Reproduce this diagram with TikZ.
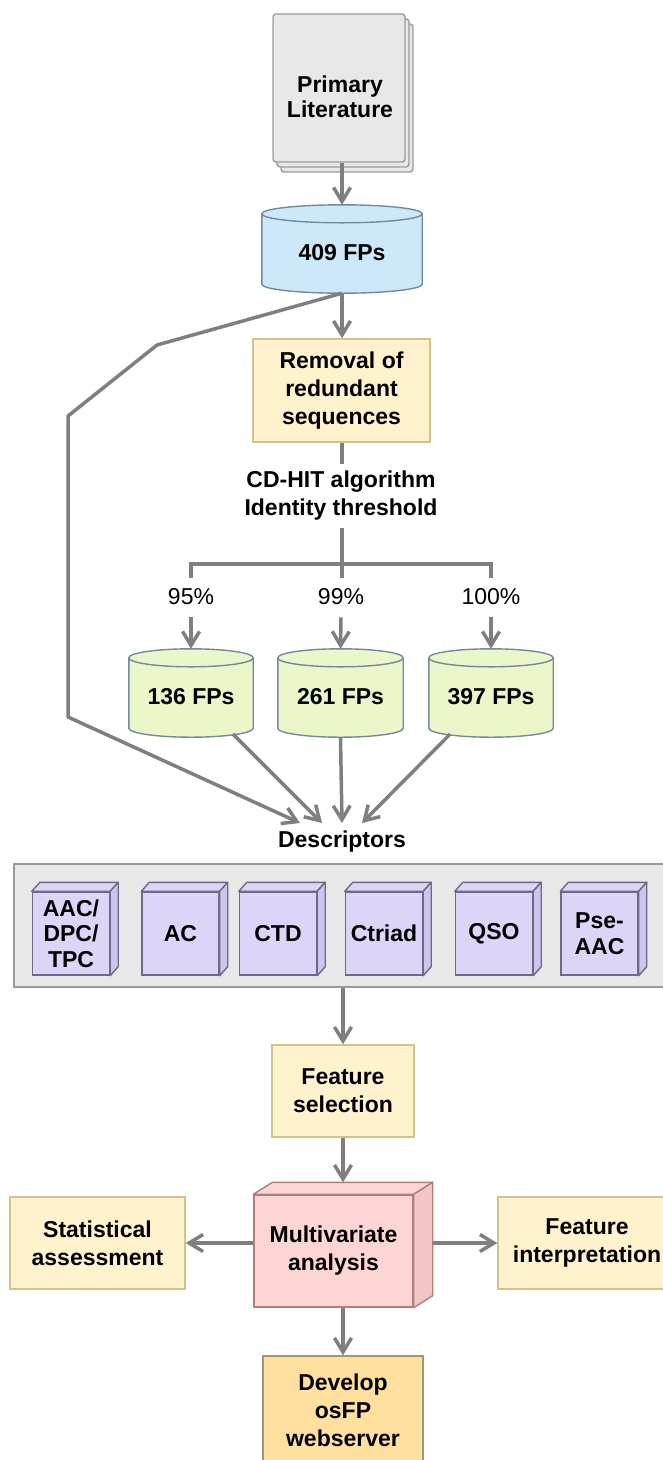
\documentclass[tikz,border=0pt]{standalone}
\usepackage{fontspec}
\setmainfont{Liberation Sans}
\usetikzlibrary{arrows.meta,calc,shadows}
\definecolor{lncol}{HTML}{7F7F7F}
\definecolor{pfill}{HTML}{E8E8E8}
\definecolor{pbord}{HTML}{9A9A9A}
\definecolor{bfill}{HTML}{CDE8FB}
\definecolor{cbord}{HTML}{76899A}
\definecolor{gfill}{HTML}{EBF7CB}
\definecolor{yfill}{HTML}{FFF2CC}
\definecolor{ybord}{HTML}{CFC38E}
\definecolor{ufill}{HTML}{DDD4F7}
\definecolor{uside}{HTML}{CEC4EC}
\definecolor{ubord}{HTML}{6F6888}
\definecolor{rfill}{HTML}{FDD5D4}
\definecolor{rside}{HTML}{F3C6C5}
\definecolor{rbord}{HTML}{B07E7C}
\definecolor{ofill}{HTML}{FFE09E}
\definecolor{obord}{HTML}{9C9A72}
\newcommand\mycyl[3]{%
  \path[fill=#2,draw=#3,line width=1.4pt] let \p1=(#1.north west), \p2=(#1.south east) in
    (\x1,\y1-1pt) -- (\x1,\y2+9pt) arc[start angle=180,end angle=360,x radius={(\x2-\x1)/2},y radius=9pt]
    -- (\x2,\y1-1pt) arc[start angle=0,end angle=180,x radius={(\x2-\x1)/2},y radius=9pt] -- cycle;
  \path[draw=#3,line width=1.4pt] let \p1=(#1.north west), \p2=(#1.south east) in
    (\x1,\y1-1pt) arc[start angle=180,end angle=360,x radius={(\x2-\x1)/2},y radius=9pt];
}
\newcommand\mycube[6]{% name, dx, dy, top fill, border, side fill
  \filldraw[fill=#4,draw=#5,line width=1.4pt,line join=round] (#1.north west) -- ++(#2,#3) -- ($(#1.north east)+(#2,#3)$) -- (#1.north east) -- cycle;
  \filldraw[fill=#6,draw=#5,line width=1.4pt,line join=round] (#1.north east) -- ++(#2,#3) -- ($(#1.south east)+(#2,#3)$) -- (#1.south east) -- cycle;
}
\tikzset{
  txt/.style={font=\fontsize{23}{28}\selectfont\bfseries, align=center, inner sep=0pt},
  ybox/.style={txt, draw=ybord, fill=yfill, line width=1.4pt},
  cube/.style={txt, font=\fontsize{23}{25.5}\selectfont\bfseries, draw=ubord, fill=ufill, line width=1.4pt, minimum width=77pt, minimum height=83pt},
  cylnode/.style={txt, minimum height=80pt},
  pct/.style={txt, font=\fontsize{23}{28}\selectfont\mdseries},
  conn/.style={draw=lncol, line width=3.5pt, line join=round},
  arr/.style={conn, -{Straight Barb[length=14pt,width=17pt]}},
}
\begin{document}
\begin{tikzpicture}[x=1pt,y=1pt]
\useasboundingbox (0,0) rectangle (662,-1460);

% Primary literature
\node[txt, draw=pbord, fill=pfill, line width=1.4pt, rounded corners=3pt,
  minimum width=132pt, minimum height=148pt,
  general shadow={fill=pfill, draw=pbord, line width=1.4pt, shadow xshift=8pt, shadow yshift=-10pt},
  general shadow={fill=pfill, draw=pbord, line width=1.4pt, shadow xshift=4pt, shadow yshift=-5pt}]
  (prim) at (339,-88) {};
\node[txt] (primtxt) at (340,-97) {Primary\\[-3pt]Literature};

% 409 FPs cylinder
\node[cylnode, minimum width=160pt] (c409) at (342,-253) {};
\mycyl{c409}{bfill}{cbord}
\node[txt] (t409) at (c409) {409 FPs};
\coordinate (c409top) at ($(c409.north)+(0,8)$);

% Removal box
\node[ybox, minimum width=177pt, minimum height=103pt] (rem) at (341.5,-390.5) {Removal of\\redundant\\sequences};

% CD-HIT
\node[txt] (cd) at (341,-496) {CD-HIT algorithm\\Identity threshold};
\coordinate (j) at (342,-564);

% percentage labels
\node[pct] (p95) at (191,-597) {95\%};
\node[pct] (p99) at (341,-597) {99\%};
\node[pct] (p100) at (491,-597) {100\%};

% green cylinders
\node[cylnode, minimum width=124pt] (c136) at (191,-697) {};
\node[cylnode, minimum width=125pt] (c261) at (340.5,-697) {};
\node[cylnode, minimum width=124pt] (c397) at (491,-697) {};
\mycyl{c136}{gfill}{cbord}
\mycyl{c261}{gfill}{cbord}
\mycyl{c397}{gfill}{cbord}
\node[txt] at (c136) {136 FPs};
\node[txt] at (c261) {261 FPs};
\node[txt] at (c397) {397 FPs};
\coordinate (c136top) at ($(c136.north)+(0,8)$);
\coordinate (c261top) at ($(c261.north)+(0,8)$);
\coordinate (c397top) at ($(c397.north)+(0,8)$);

% Descriptors
\node[txt] (desc) at (342,-842) {Descriptors};
\coordinate (tA) at (300,-823);
\coordinate (tB) at (322,-823);
\coordinate (tC) at (342,-823);
\coordinate (tD) at (362,-823);
\coordinate (b1) at (157,-345);
\coordinate (b2) at (68,-416);
\coordinate (b3) at (68,-717);

% panel
\node[draw=pbord, fill=pfill, line width=1.4pt, minimum width=656pt, minimum height=123pt, inner sep=0pt] (panel) at (342,-925.5) {};

% cubes
\node[cube] (k1) at (71,-933.5) {AAC/\\DPC/\\TPC};
\node[cube] (k2) at (180.5,-933.5) {AC};
\node[cube] (k3) at (278,-933.5) {CTD};
\node[cube] (k4) at (384,-933.5) {Ctriad};
\node[cube] (k5) at (494,-933.5) {QSO};
\node[cube] (k6) at (599.5,-933.5) {Pse-\\AAC};
\foreach \k in {k1,k2,k3,k4,k5,k6} {\mycube{\k}{8}{9}{ufill}{ubord}{uside}}

% Feature selection
\node[ybox, minimum width=142pt, minimum height=92pt] (fs) at (343,-1091) {Feature\\selection};

% Multivariate analysis
\node[txt, draw=rbord, fill=rfill, line width=1.4pt, minimum width=159pt, minimum height=112pt] (mv) at (333.5,-1251) {Multivariate\\analysis};
\mycube{mv}{19}{12}{rfill}{rbord}{rside}
\coordinate (mvtop) at ($(mv.north)+(9.5,12)$);
\coordinate (mvright) at ($(mv.east)+(19,8)$);

% side boxes
\node[ybox, minimum width=175pt, minimum height=92pt] (stat) at (97.5,-1243) {Statistical\\assessment};
\node[ybox, minimum width=178pt, minimum height=92pt] (fi) at (587,-1243) {Feature\\interpretation};

% Develop
\node[txt, draw=obord, fill=ofill, line width=1.4pt, minimum width=160pt, minimum height=108pt] (dev) at (343,-1410) {Develop\\osFP\\webserver};

% connectors
\draw[arr] (prim.south -| c409top) -- (c409top);
\draw[arr] (c409.south) -- (rem.north -| c409.south);
\draw[arr] (c409.south) -- (b1) -- (b2) -- (b3) -- (tA);
\draw[conn] (rem.south -| j) -- ($(rem.south -| j)+(0,-21)$);
\draw[conn] ($(cd.south -| j)+(0,-7)$) -- (j);
\draw[conn, line cap=rect] (p95.north |- j) -- (p100.north |- j);
\draw[conn] (p95.north |- j) -- ($(p95.north |- j)+(0,-14)$);
\draw[conn] (j) -- ($(j)+(0,-14)$);
\draw[conn] (p100.north |- j) -- ($(p100.north |- j)+(0,-14)$);
\draw[arr] ($(p95.south)+(0,-12)$) -- (c136top);
\draw[arr] ($(p99.south)+(0,-12)$) -- (c261top);
\draw[arr] ($(p100.south)+(0,-12)$) -- (c397top);
\draw[arr] ($(c136.south)+(42,3)$) -- (tB);
\draw[arr] (c261.south) -- (tC);
\draw[arr] ($(c397.south)+(-41,3)$) -- (tD);
\draw[arr] (panel.south -| fs.north) -- (fs.north);
\draw[arr] (fs.south) -- (mvtop);
\draw[arr] (mv.west |- stat.east) -- (stat.east);
\draw[arr] (mvright) -- (fi.west);
\draw[arr] (mv.south -| dev.north) -- (dev.north);
\end{tikzpicture}
\end{document}
